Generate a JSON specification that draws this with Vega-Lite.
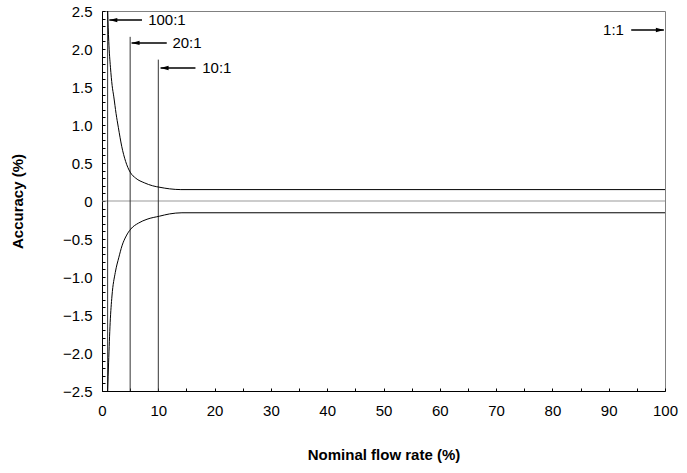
{
  "$schema": "https://vega.github.io/schema/vega-lite/v6.json",
  "width": 563,
  "height": 380,
  "autosize": {"type": "none"},
  "padding": {"left": 102, "top": 11, "right": 22, "bottom": 82},
  "background": "white",
  "config": {
    "view": {"stroke": "#808080", "strokeWidth": 1},
    "axis": {
      "labelFont": "Liberation Sans",
      "labelFontSize": 15,
      "labelColor": "black",
      "titleFont": "Liberation Sans",
      "titleFontSize": 15,
      "titleFontWeight": "bold",
      "titleColor": "black",
      "domainColor": "black",
      "tickColor": "black",
      "grid": false,
      "labelOverlap": false,
      "labelFlush": false
    }
  },
  "datasets": {
    "curves": [
      {"series": "upper", "x": 1.0, "y": 2.5},
      {"series": "upper", "x": 1.2, "y": 2.1},
      {"series": "upper", "x": 1.5, "y": 1.76},
      {"series": "upper", "x": 1.8, "y": 1.52},
      {"series": "upper", "x": 2.1, "y": 1.37},
      {"series": "upper", "x": 2.5, "y": 1.15},
      {"series": "upper", "x": 2.9, "y": 0.97},
      {"series": "upper", "x": 3.5, "y": 0.72},
      {"series": "upper", "x": 4.2, "y": 0.52},
      {"series": "upper", "x": 5.0, "y": 0.38},
      {"series": "upper", "x": 6.0, "y": 0.3},
      {"series": "upper", "x": 7.5, "y": 0.24},
      {"series": "upper", "x": 9.0, "y": 0.2},
      {"series": "upper", "x": 10.3, "y": 0.18},
      {"series": "upper", "x": 12.0, "y": 0.16},
      {"series": "upper", "x": 14.0, "y": 0.15},
      {"series": "upper", "x": 100.0, "y": 0.15},
      {"series": "lower", "x": 1.0, "y": -2.5},
      {"series": "lower", "x": 1.17, "y": -2.13},
      {"series": "lower", "x": 1.45, "y": -1.6},
      {"series": "lower", "x": 1.77, "y": -1.25},
      {"series": "lower", "x": 2.36, "y": -0.94},
      {"series": "lower", "x": 3.0, "y": -0.74},
      {"series": "lower", "x": 3.55, "y": -0.59},
      {"series": "lower", "x": 4.3, "y": -0.46},
      {"series": "lower", "x": 5.1, "y": -0.37},
      {"series": "lower", "x": 6.5, "y": -0.29},
      {"series": "lower", "x": 8.0, "y": -0.24},
      {"series": "lower", "x": 10.2, "y": -0.2},
      {"series": "lower", "x": 12.0, "y": -0.17},
      {"series": "lower", "x": 14.2, "y": -0.155},
      {"series": "lower", "x": 100.0, "y": -0.155}
    ],
    "refs": [
      {"x": 1, "y0": -2.5, "y1": 2.5},
      {"x": 5, "y0": -2.5, "y1": 2.16},
      {"x": 10, "y0": -2.5, "y1": 1.86}
    ],
    "arrows": [
      {"label": "100:1", "tip": 1.3, "tail": 7.1, "y": 2.38, "tx": 8.2, "dir": "left"},
      {"label": "20:1", "tip": 5.25, "tail": 11.5, "y": 2.08, "tx": 12.5, "dir": "left"},
      {"label": "10:1", "tip": 10.4, "tail": 16.6, "y": 1.75, "tx": 17.8, "dir": "left"},
      {"label": "1:1", "tip": 99.8, "tail": 94.0, "y": 2.25, "tx": 92.7, "dir": "right"}
    ],
    "zero": [{"y": 0}]
  },
  "encoding": {},
  "layer": [
    {
      "data": {"name": "zero"},
      "mark": {"type": "rule", "color": "#999999", "strokeWidth": 1},
      "encoding": {
        "y": {"field": "y", "type": "quantitative", "scale": {"domain": [-2.5, 2.5], "nice": false, "zero": false},
          "axis": {
            "title": "Accuracy (%)",
            "values": [-2.5, -2.4, -2.3, -2.2, -2.1, -2.0, -1.9, -1.8, -1.7, -1.6, -1.5, -1.4, -1.3, -1.2, -1.1, -1.0, -0.9, -0.8, -0.7, -0.6, -0.5, -0.4, -0.3, -0.2, -0.1, 0, 0.1, 0.2, 0.3, 0.4, 0.5, 0.6, 0.7, 0.8, 0.9, 1.0, 1.1, 1.2, 1.3, 1.4, 1.5, 1.6, 1.7, 1.8, 1.9, 2.0, 2.1, 2.2, 2.3, 2.4, 2.5],
            "tickCount": 200,
            "labelExpr": "abs(datum.value * 2 - round(datum.value * 2)) < 0.000001 ? (abs(datum.value) < 0.000001 ? '0' : format(datum.value, '.1f')) : ''",
            "labelOverlap": false,
            "tickSize": -3,
            "labelPadding": 13,
            "titlePadding": 37
          }
        }
      }
    },
    {
      "data": {"name": "refs"},
      "mark": {"type": "rule", "color": "#333333", "strokeWidth": 1},
      "encoding": {
        "x": {"field": "x", "type": "quantitative", "scale": {"domain": [0, 100], "nice": false, "zero": false},
          "axis": {
            "title": "Nominal flow rate (%)",
            "values": [0, 5, 10, 15, 20, 25, 30, 35, 40, 45, 50, 55, 60, 65, 70, 75, 80, 85, 90, 95, 100],
            "tickCount": 200,
            "labelExpr": "datum.value % 10 === 0 ? format(datum.value, 'd') : ''",
            "labelOverlap": false,
            "tickSize": -3,
            "labelPadding": 15,
            "titlePadding": 29
          }
        },
        "y": {"field": "y0", "type": "quantitative"},
        "y2": {"field": "y1"}
      }
    },
    {
      "data": {"name": "curves"},
      "mark": {"type": "line", "color": "black", "strokeWidth": 1, "interpolate": "monotone", "clip": true},
      "encoding": {
        "x": {"field": "x", "type": "quantitative"},
        "y": {"field": "y", "type": "quantitative"},
        "detail": {"field": "series", "type": "nominal"}
      }
    },
    {
      "data": {"name": "arrows"},
      "mark": {"type": "rule", "color": "black", "strokeWidth": 1.5},
      "encoding": {
        "x": {"field": "tip", "type": "quantitative"},
        "x2": {"field": "tail"},
        "y": {"field": "y", "type": "quantitative"}
      }
    },
    {
      "data": {"name": "arrows"},
      "transform": [{"filter": "datum.dir === 'left'"}],
      "mark": {"type": "point", "shape": "M0,0L2,-0.55L2,0.55Z", "filled": true, "color": "black", "opacity": 1, "size": 64},
      "encoding": {
        "x": {"field": "tip", "type": "quantitative"},
        "y": {"field": "y", "type": "quantitative"}
      }
    },
    {
      "data": {"name": "arrows"},
      "transform": [{"filter": "datum.dir === 'right'"}],
      "mark": {"type": "point", "shape": "M0,0L-2,-0.55L-2,0.55Z", "filled": true, "color": "black", "opacity": 1, "size": 64},
      "encoding": {
        "x": {"field": "tip", "type": "quantitative"},
        "y": {"field": "y", "type": "quantitative"}
      }
    },
    {
      "data": {"name": "arrows"},
      "transform": [{"filter": "datum.dir === 'left'"}],
      "mark": {"type": "text", "align": "left", "baseline": "middle", "font": "Liberation Sans", "fontSize": 15, "color": "black"},
      "encoding": {
        "x": {"field": "tx", "type": "quantitative"},
        "y": {"field": "y", "type": "quantitative"},
        "text": {"field": "label"}
      }
    },
    {
      "data": {"name": "arrows"},
      "transform": [{"filter": "datum.dir === 'right'"}],
      "mark": {"type": "text", "align": "right", "baseline": "middle", "font": "Liberation Sans", "fontSize": 15, "color": "black"},
      "encoding": {
        "x": {"field": "tx", "type": "quantitative"},
        "y": {"field": "y", "type": "quantitative"},
        "text": {"field": "label"}
      }
    }
  ]
}
